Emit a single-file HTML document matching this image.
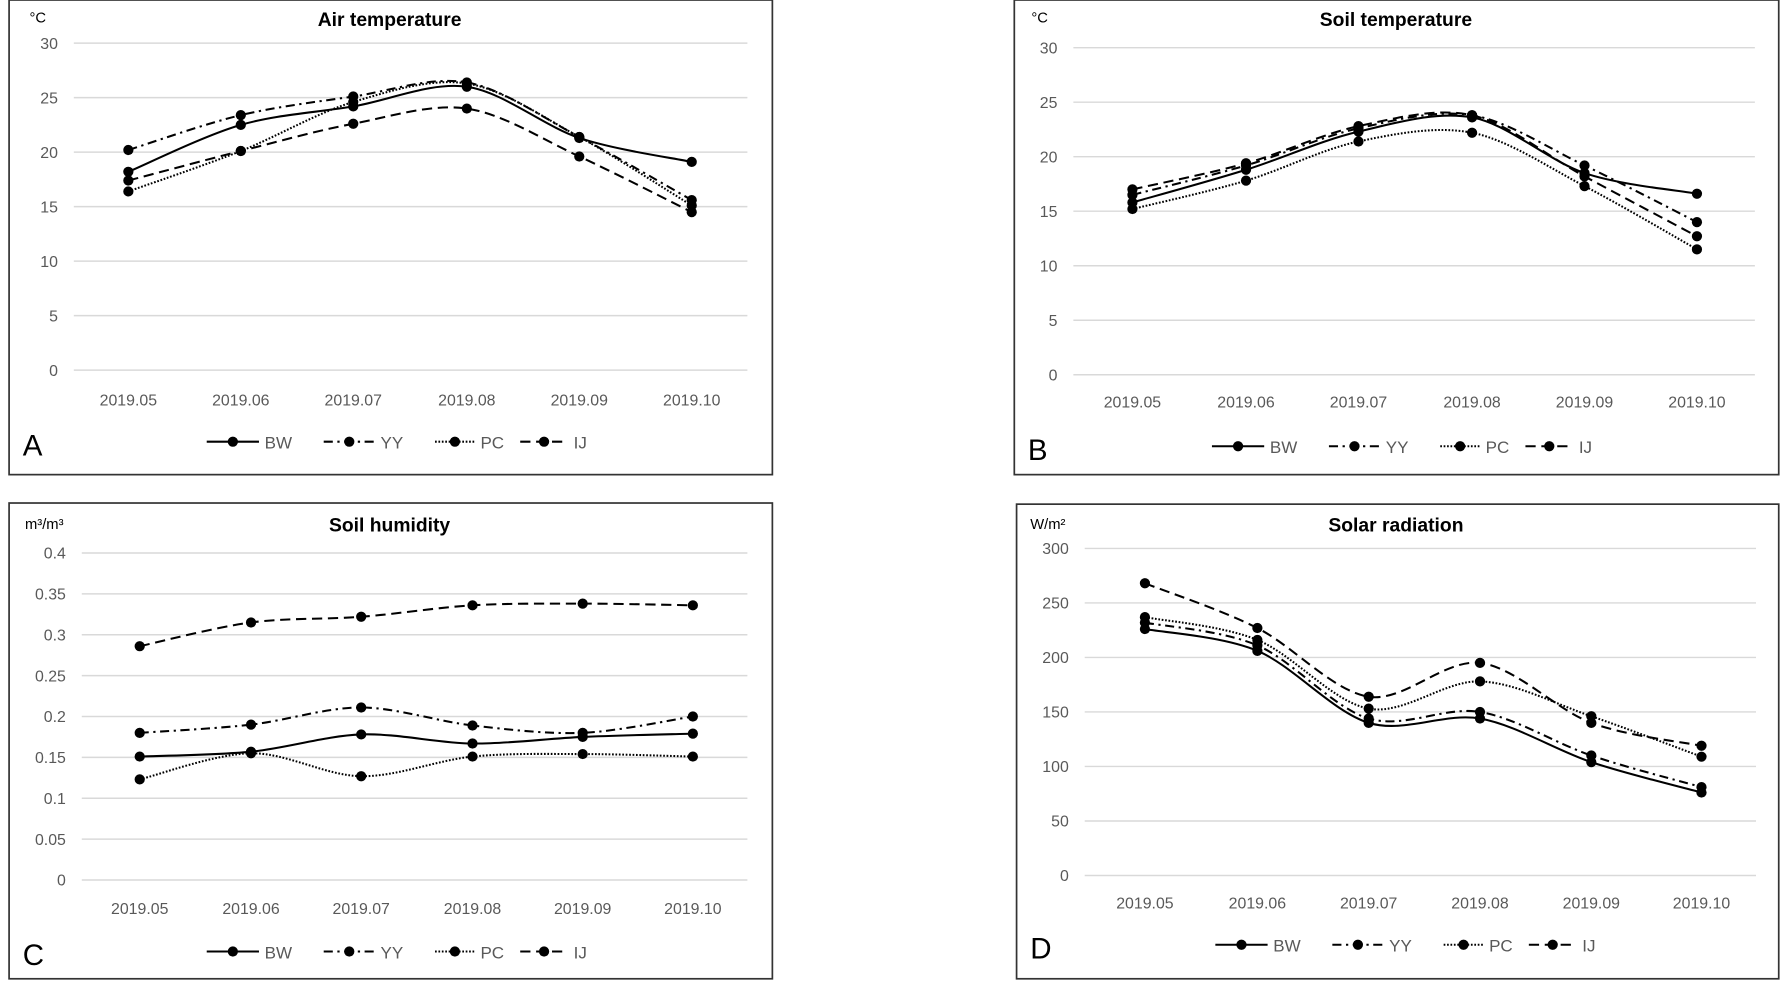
<!DOCTYPE html>
<html><head><meta charset="utf-8"><style>
html,body{margin:0;padding:0;background:#fff;}
svg{display:block;}
text{font-family:"Liberation Sans",sans-serif;}
</style></head><body>
<svg id="s" width="1781" height="989" viewBox="0 0 1568 871" preserveAspectRatio="none" xmlns="http://www.w3.org/2000/svg"></svg>
<script>
const S=document.getElementById('s');let h='';
const dash={BW:'',YY:'8,4,2,4',PC:'1.5,1.5',IJ:'9,5'};
function path(pts){let d='M'+pts[0][0]+','+pts[0][1];
for(let i=0;i<pts.length-1;i++){const p0=pts[i-1]||pts[i],p1=pts[i],p2=pts[i+1],p3=pts[i+2]||p2;
const t=0.16;d+=' C'+(p1[0]+(p2[0]-p0[0])*t)+','+(p1[1]+(p2[1]-p0[1])*t)+' '+(p2[0]-(p3[0]-p1[0])*t)+','+(p2[1]-(p3[1]-p1[1])*t)+' '+p2[0]+','+p2[1];}
return d;}
function panel(c){
h+=`<rect x="${c.bx}" y="${c.by}" width="${c.bw}" height="${c.bh}" fill="none" stroke="#333" stroke-width="1.5"/>`;
h+=`<text x="${c.tx}" y="${c.ty}" font-size="17" font-weight="bold" text-anchor="middle">${c.title}</text>`;
h+=`<text x="${c.ux}" y="${c.uy}" font-size="13">${c.unit}</text>`;
const n=c.ticks.length;
c.ticks.forEach((t,i)=>{const y=c.y0+(c.y1-c.y0)*i/(n-1);
h+=`<line x1="${c.gx0}" x2="${c.gx1}" y1="${y}" y2="${y}" stroke="#d9d9d9" stroke-width="1.3"/>`;
h+=`<text x="${c.gx0-14}" y="${y+5}" font-size="14" fill="#595959" text-anchor="end">${t}</text>`;});
const mons=['2019.05','2019.06','2019.07','2019.08','2019.09','2019.10'];
c.xs.forEach((x,i)=>h+=`<text x="${x}" y="${c.ly}" font-size="14" fill="#595959" text-anchor="middle">${mons[i]}</text>`);
const vmax=c.vmax;
for(const k of ['PC','YY','BW','IJ']){const pts=c.d[k].map((v,i)=>[c.xs[i],+(c.y1+(c.y0-c.y1)*v/vmax).toFixed(1)]);
h+=`<path d="${path(pts)}" fill="none" stroke="#000" stroke-width="1.8" stroke-dasharray="${dash[k]}"/>`;
pts.forEach(p=>h+=`<circle cx="${p[0]}" cy="${p[1]}" r="4.5"/>`);}
const L=c.lx,ly=c.legy;
const items=[['BW',0,46],['YY',103,45],['PC',201,35],['IJ',276,42]];
items.forEach(([k,o,w])=>{h+=`<line x1="${L+o}" x2="${L+o+w}" y1="${ly}" y2="${ly}" stroke="#000" stroke-width="1.8" stroke-dasharray="${dash[k]}"/>`;
h+=`<circle cx="${L+o+w/2}" cy="${ly}" r="4.5"/>`;
h+=`<text x="${L+o+w+5}" y="${ly+6}" font-size="15" fill="#595959">${k}</text>`;});
h+=`<text x="${c.bx+12}" y="${c.legy+12}" font-size="26">${c.letter}</text>`;
}
panel({bx:8,by:0,bw:672,bh:418,tx:343,ty:23,title:'Air temperature',ux:26,uy:20,unit:'°C',
ticks:['0','5','10','15','20','25','30'].reverse(),y0:38,y1:326,gx0:65,gx1:658,vmax:30,
xs:[113,212,311,411,510,609],ly:357,legy:389,lx:182,letter:'A',
d:{BW:[18.2,22.5,24.2,26,21.3,19.1],YY:[20.2,23.4,25.1,26.4,21.4,15.6],PC:[16.4,20.1,24.6,26.3,21.4,15.1],IJ:[17.4,20.1,22.6,24,19.6,14.5]}});
panel({bx:893,by:0,bw:673,bh:418,tx:1229,ty:23,title:'Soil temperature',ux:908,uy:20,unit:'°C',
ticks:['30','25','20','15','10','5','0'],y0:42,y1:330,gx0:945,gx1:1545,vmax:30,
xs:[997,1097,1196,1296,1395,1494],ly:359,legy:393,lx:1067,letter:'B',
d:{BW:[15.8,18.8,22.3,23.6,18.5,16.6],YY:[16.5,19.2,22.6,23.8,19.2,14.0],PC:[15.2,17.8,21.4,22.2,17.3,11.5],IJ:[17,19.4,22.8,23.8,18.2,12.7]}});
panel({bx:8,by:443,bw:672,bh:419,tx:343,ty:468,title:'Soil humidity',ux:22,uy:466,unit:'m³/m³',
ticks:['0.4','0.35','0.3','0.25','0.2','0.15','0.1','0.05','0'],y0:487,y1:775,gx0:72,gx1:658,vmax:0.4,
xs:[123,221,318,416,513,610],ly:805,legy:838,lx:182,letter:'C',
d:{BW:[.151,.157,.178,.167,.175,.179],YY:[.180,.190,.211,.189,.180,.200],PC:[.123,.155,.127,.151,.154,.151],IJ:[.286,.315,.322,.336,.338,.336]}});
panel({bx:895,by:444,bw:671,bh:418,tx:1229,ty:468,title:'Solar radiation',ux:907,uy:466,unit:'W/m²',
ticks:['300','250','200','150','100','50','0'],y0:483,y1:771,gx0:955,gx1:1546,vmax:300,
xs:[1008,1107,1205,1303,1401,1498],ly:800,legy:832,lx:1070,letter:'D',
d:{BW:[226,206,140,144,104,76],YY:[232,211,144,150,110,81],PC:[237,216,153,178,146,109],IJ:[268,227,164,195,140,119]}});
S.innerHTML=h;
</script>
</body></html>
